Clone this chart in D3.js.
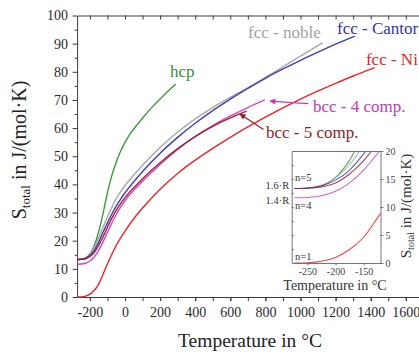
<!DOCTYPE html>
<html>
<head>
<meta charset="utf-8">
<script src="https://cdn.jsdelivr.net/npm/d3@7"></script>
<style>
  html, body { margin: 0; padding: 0; background: #fff; }
  svg { display: block; font-family: "Liberation Serif", "DejaVu Serif", serif; }
</style>
</head>
<body>
<svg id="chart" width="419" height="352"></svg>
<script>
// Total entropy S_total (J/(mol·K)) versus temperature (°C) for several alloy families.
const hcpT   = [-273, -250, -230, -210, -195, -180, -165, -150, -133, -120, -104, -85, -70, -50, -28.5, 0, 30, 66.7, 110, 161, 210, 256, 289];
const hcpS   = [13.3, 13.35, 13.6, 14.5, 15.8, 17.6, 20.1, 23.2, 27.4, 31.2, 35.9, 40.9, 44.2, 47.9, 51.3, 54.9, 58.0, 61.0, 64.3, 67.9, 71.0, 73.8, 75.7];

const nobleT = [-273, -250, -225, -200, -175, -150, -125, -100, -75, -50, -25, 0, 100, 200, 300, 400, 500, 600, 700, 800, 900, 1000, 1125];
const nobleS = [13.3, 13.4, 13.9, 15.2, 17.6, 21.0, 24.8, 28.5, 31.9, 34.9, 37.4, 39.6, 46.8, 53.1, 58.6, 63.3, 67.3, 70.9, 74.3, 78.0, 81.8, 85.6, 90.3];

const cantorT = [-273, -250, -225, -200, -175, -150, -125, -100, -75, -50, -25, 0, 100, 200, 300, 400, 500, 600, 700, 800, 900, 1000, 1100, 1200, 1309];
const cantorS = [13.3, 13.4, 13.8, 14.8, 16.6, 19.5, 23.0, 26.4, 29.5, 32.3, 34.8, 37.0, 44.6, 51.1, 56.7, 61.7, 66.2, 70.3, 74.1, 77.7, 81.0, 84.1, 87.0, 89.8, 92.7];

const niT = [-273, -250, -225, -200, -175, -150, -125, -100, -75, -50, -25, 0, 50, 100, 200, 300, 400, 500, 600, 700, 800, 900, 1000, 1100, 1200, 1300, 1423];
const niS = [0, 0.05, 0.3, 1.0, 2.4, 4.6, 8.1, 11.8, 15.2, 18.3, 21.0, 23.4, 27.8, 31.6, 38.3, 43.9, 48.6, 52.8, 56.7, 60.4, 63.9, 67.2, 70.3, 73.2, 75.9, 78.5, 81.5];

const bcc4T = [-273, -250, -225, -200, -175, -150, -125, -100, -75, -50, -25, 0, 100, 200, 300, 400, 500, 600, 700, 797];
const bcc4S = [11.64, 11.7, 12.0, 12.8, 14.3, 16.6, 19.6, 23.0, 26.3, 29.3, 31.9, 34.2, 41.1, 47.1, 52.4, 57.0, 60.9, 64.3, 67.3, 70.0];

const bcc5T = [-273, -250, -225, -200, -175, -150, -125, -100, -75, -50, -25, 0, 100, 200, 300, 400, 500, 600, 693];
const bcc5S = [13.3, 13.35, 13.6, 14.3, 15.9, 18.3, 21.4, 24.8, 28.0, 30.8, 33.2, 35.3, 42.0, 47.7, 52.7, 57.0, 60.6, 63.6, 66.0];

const seriesNames  = ["hcp", "fcc - noble", "fcc - Cantor", "fcc - Ni", "bcc - 4 comp.", "bcc - 5 comp."];
const seriesColors = ["#3f9a3a", "#a8a8a8", "#3e3eae", "#ec2427", "#d046c2", "#9a2630"];
const labelColors  = ["#3a9038", "#a4a4a4", "#35359e", "#e2262a", "#c23ab4", "#8e1e2a"];

// Axis tick values
const xMajorTicks = [-200, 0, 200, 400, 600, 800, 1000, 1200, 1400, 1600];
const xMinorTicks = d3.range(-200, 1800, 100);
const yMajorTicks = d3.range(0, 101, 10);
const yMinorTicks = d3.range(5, 100, 10);
const insetXTicks = [-250, -200, -150];
const insetYTicks = [0, 5, 10, 15, 20];
const insetRefLabels = ["1.6·R", "1.4·R"];
const insetNLabels = ["n=5", "n=4", "n=1"];

const series = [
  [hcpT, hcpS], [nobleT, nobleS], [cantorT, cantorS],
  [niT, niS], [bcc4T, bcc4S], [bcc5T, bcc5S]
].map(([t, s], i) => ({
  name: seriesNames[i], color: seriesColors[i],
  pts: t.map((d, j) => ({ t: d, s: s[j] }))
}));

const svg = d3.select("#chart");
const FONT = '"Liberation Serif", "DejaVu Serif", serif';

// ---------- main panel ----------
const x = d3.scaleLinear().domain([-273, 1800]).range([77.1, 440.9]);
const y = d3.scaleLinear().domain([0, 100]).range([297, 15.5]);

const line = d3.line().x(d => x(d.t)).y(d => y(d.s)).curve(d3.curveMonotoneX);

function styleAxis(g, size) {
  g.selectAll("path.domain").attr("stroke", "#3a3a3a").attr("stroke-width", 1);
  g.selectAll(".tick line").attr("stroke", "#3a3a3a").attr("stroke-width", 1);
  g.selectAll(".tick text").attr("fill", "#2a2a2a").style("font-family", FONT).style("font-size", size + "px");
}

// bottom axis
const gxMinor = svg.append("g").attr("transform", `translate(0,${y(0)})`)
  .call(d3.axisBottom(x).tickValues(xMinorTicks).tickFormat("").tickSize(4).tickSizeOuter(0));
styleAxis(gxMinor, 14);
gxMinor.select("path.domain").remove();
const gx = svg.append("g").attr("transform", `translate(0,${y(0)})`)
  .call(d3.axisBottom(x).tickValues(xMajorTicks).tickSize(4).tickSizeOuter(0).tickPadding(6.5)
        .tickFormat(d3.format("d")));
styleAxis(gx, 14);
gx.selectAll(".tick text").text(d => d < 0 ? "-" + Math.abs(d) : d);

// top axis, ticks pointing inward
const gt = svg.append("g").attr("transform", `translate(0,${y(100)})`)
  .call(d3.axisTop(x).tickValues(xMinorTicks).tickFormat("").tickSize(-4).tickSizeOuter(0));
styleAxis(gt, 14);

// left axis
const gyMinor = svg.append("g").attr("transform", `translate(${x(-273)},0)`)
  .call(d3.axisLeft(y).tickValues(yMinorTicks).tickFormat("").tickSize(2.5).tickSizeOuter(0));
styleAxis(gyMinor, 14);
gyMinor.select("path.domain").remove();
const gy = svg.append("g").attr("transform", `translate(${x(-273)},0)`)
  .call(d3.axisLeft(y).tickValues(yMajorTicks).tickSize(4.5).tickSizeOuter(0).tickPadding(4.5));
styleAxis(gy, 14);

// curves
svg.append("g").selectAll("path").data(series).join("path")
  .attr("d", d => line(d.pts))
  .attr("fill", "none")
  .attr("stroke", d => d.color)
  .attr("stroke-width", 1.4);

// axis titles
svg.append("text")
  .attr("x", 250).attr("y", 347)
  .attr("text-anchor", "middle")
  .style("font-family", FONT).style("font-size", "19.5px").attr("fill", "#222")
  .text("Temperature in °C");

const yt = svg.append("text")
  .attr("transform", "translate(26,150) rotate(-90)")
  .attr("text-anchor", "middle")
  .style("font-family", FONT).style("font-size", "20px").attr("fill", "#222");
yt.append("tspan").text("S");
yt.append("tspan").attr("dy", 4).style("font-size", "13px").text("total");
yt.append("tspan").attr("dy", -4).text(" in J/(mol·K)");

// series labels, anchored in data coordinates
const labelT = [256, 701, 1208, 1373, 1071, 803];
const labelS = [78.2, 92.0, 93.4, 82.4, 65.7, 56.5];
svg.append("g").selectAll("text").data(seriesNames).join("text")
  .attr("x", (d, i) => x(labelT[i]))
  .attr("y", (d, i) => y(labelS[i]))
  .attr("fill", (d, i) => labelColors[i])
  .style("font-family", FONT).style("font-size", "17px")
  .text(d => d);

// pointer arrows for the two bcc labels
const arrowFromT = [1043, 789], arrowFromS = [68.7, 59.5];
const arrowToT   = [826, 655],  arrowToS   = [69.6, 65.0];
const arrowColors = ["#c23ab4", "#8e1e2a"];
const defs = svg.append("defs");
arrowColors.forEach((c, i) => {
  defs.append("marker").attr("id", "ah" + i)
    .attr("viewBox", "0 0 10 10").attr("refX", 9).attr("refY", 5)
    .attr("markerWidth", 7).attr("markerHeight", 6).attr("orient", "auto")
    .attr("markerUnits", "userSpaceOnUse")
    .append("path").attr("d", "M0,0 L10,5 L0,10 Z").attr("fill", c);
});
svg.append("g").selectAll("line").data(arrowColors).join("line")
  .attr("x1", (d, i) => x(arrowFromT[i])).attr("y1", (d, i) => y(arrowFromS[i]))
  .attr("x2", (d, i) => x(arrowToT[i])).attr("y2", (d, i) => y(arrowToS[i]))
  .attr("stroke", d => d).attr("stroke-width", 1.2)
  .attr("marker-end", (d, i) => `url(#ah${i})`);

// ---------- inset: low-temperature detail ----------
const ix = d3.scaleLinear().domain([-278, -120]).range([291.7, 380.5]);
const iy = d3.scaleLinear().domain([0, 20]).range([263, 151]);

defs.append("clipPath").attr("id", "insetClip")
  .append("rect").attr("x", ix(-278)).attr("y", iy(20))
  .attr("width", ix(-120) - ix(-278)).attr("height", iy(0) - iy(20));

svg.append("rect")
  .attr("x", ix(-278)).attr("y", iy(20))
  .attr("width", ix(-120) - ix(-278)).attr("height", iy(0) - iy(20))
  .attr("fill", "#fff");

const iline = d3.line().x(d => ix(d.t)).y(d => iy(d.s)).curve(d3.curveMonotoneX);
svg.append("g").attr("clip-path", "url(#insetClip)")
  .selectAll("path").data(series).join("path")
  .attr("d", d => iline(d.pts.filter(p => p.t <= -50)))
  .attr("fill", "none")
  .attr("stroke", d => d.color)
  .attr("stroke-opacity", 0.85)
  .attr("stroke-width", 1.1);

function styleInset(g) {
  g.selectAll("path.domain").attr("stroke", "#666").attr("stroke-width", 0.9);
  g.selectAll(".tick line").attr("stroke", "#666").attr("stroke-width", 0.9);
  g.selectAll(".tick text").attr("fill", "#444").style("font-family", FONT).style("font-size", "10px");
}

const ixAxis = svg.append("g").attr("transform", `translate(0,${iy(0)})`)
  .call(d3.axisBottom(ix).tickValues(insetXTicks).tickSize(2.5).tickSizeOuter(0).tickPadding(2.5));
styleInset(ixAxis);
ixAxis.selectAll(".tick text").text(d => "-" + Math.abs(d));

const ixTop = svg.append("g").attr("transform", `translate(0,${iy(20)})`)
  .call(d3.axisTop(ix).tickValues([]).tickSizeOuter(0));
styleInset(ixTop);

const iyLeft = svg.append("g").attr("transform", `translate(${ix(-278)},0)`)
  .call(d3.axisLeft(iy).tickValues(d3.range(2.5, 20, 2.5)).tickFormat("").tickSize(-2).tickSizeOuter(0));
styleInset(iyLeft);

const iyRight = svg.append("g").attr("transform", `translate(${ix(-120)},0)`)
  .call(d3.axisRight(iy).tickValues(insetYTicks).tickSize(3).tickSizeOuter(0).tickPadding(2));
styleInset(iyRight);

// reference levels 1.6·R and 1.4·R (text placed beside the plateaus)
const refLabelS = [13.2, 10.5];
svg.append("g").selectAll("text").data(insetRefLabels).join("text")
  .attr("x", ix(-278) - 2.5)
  .attr("y", (d, i) => iy(refLabelS[i]))
  .attr("text-anchor", "end")
  .attr("fill", "#333")
  .style("font-family", FONT).style("font-size", "10.5px")
  .text(d => d);

// number of components next to the low-temperature plateaus
const nLabelS = [14.6, 9.6, 0.5];
svg.append("g").selectAll("text").data(insetNLabels).join("text")
  .attr("x", ix(-272))
  .attr("y", (d, i) => iy(nLabelS[i]))
  .attr("fill", "#333")
  .style("font-family", FONT).style("font-size", "10.5px")
  .text(d => d);

svg.append("text")
  .attr("x", 335).attr("y", 290)
  .attr("text-anchor", "middle")
  .attr("fill", "#333")
  .style("font-family", FONT).style("font-size", "14px")
  .text("Temperature in °C");

const iyt = svg.append("text")
  .attr("transform", `translate(411,${(iy(0) + iy(20)) / 2 - 1}) rotate(-90)`)
  .attr("text-anchor", "middle")
  .attr("fill", "#333")
  .style("font-family", FONT).style("font-size", "15px");
iyt.append("tspan").text("S");
iyt.append("tspan").attr("dy", 3).style("font-size", "10px").text("total");
iyt.append("tspan").attr("dy", -3).text(" in J/(mol·K)");
</script>
</body>
</html>
